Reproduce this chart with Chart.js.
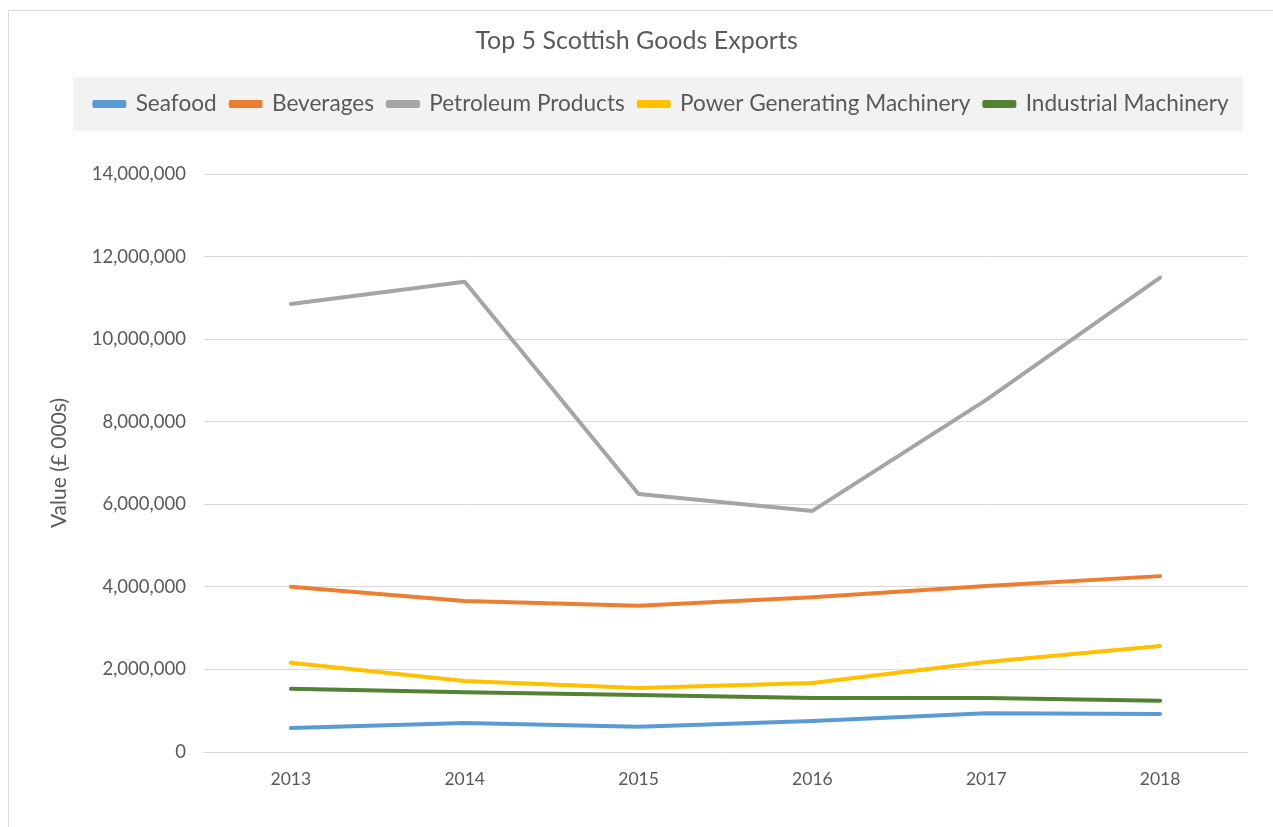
<!DOCTYPE html>
<html>
<head>
<meta charset="utf-8">
<title>Top 5 Scottish Goods Exports</title>
<script src="https://cdn.jsdelivr.net/npm/chart.js@4"></script>
<style>
  html, body { margin: 0; padding: 0; background: #fff; overflow: hidden; }
  #wrap { width: 1273px; height: 827px; }
</style>
</head>
<body>
<div id="wrap"><canvas id="chart" width="1273" height="827"></canvas></div>

<script>
  // export values, £ 000s
  var years = ["2013", "2014", "2015", "2016", "2017", "2018"];
  var seafood = [580000, 700000, 610000, 750000, 940000, 920000];
  var beverages = [4000000, 3660000, 3540000, 3750000, 4020000, 4260000];
  var petroleum = [10850000, 11390000, 6250000, 5840000, 8530000, 11490000];
  var powerMachinery = [2160000, 1720000, 1550000, 1670000, 2180000, 2570000];
  var industrialMachinery = [1530000, 1450000, 1380000, 1310000, 1310000, 1240000];
  var yTicks = [0, 2000000, 4000000, 6000000, 8000000, 10000000, 12000000, 14000000];

  var font = "Lato";
  var textColor = "#595959";

  function series(label, data, color) {
    return {
      label: label,
      data: data,
      borderColor: color,
      backgroundColor: color,
      borderWidth: 4,
      pointRadius: 0,
      pointHoverRadius: 0,
      tension: 0,
      borderCapStyle: "round",
      borderJoinStyle: "round"
    };
  }

  // frame around the chart and grey band behind the legend
  var legendShift = 25;
  var frame = {
    id: "frame",
    beforeDraw: function (chart) {
      var c = chart.ctx;
      var lg = chart.legend;
      lg.left += legendShift;
      lg.right += legendShift;
      c.save();
      c.strokeStyle = "#d9d9d9";
      c.lineWidth = 1;
      c.strokeRect(8.5, 10.5, 1400, 1000);
      c.fillStyle = "#f2f2f2";
      c.fillRect(73, 77, 1170, 54);
      c.restore();
    },
    afterDraw: function (chart) {
      chart.legend.left -= legendShift;
      chart.legend.right -= legendShift;
    }
  };

  var ctx = document.getElementById("chart").getContext("2d");
  new Chart(ctx, {
    type: "line",
    data: {
      labels: years,
      datasets: [
        series("Seafood", seafood, "#5b9bd5"),
        series("Beverages", beverages, "#ed7d31"),
        series("Petroleum Products", petroleum, "#a5a5a5"),
        series("Power Generating Machinery", powerMachinery, "#ffc000"),
        series("Industrial Machinery", industrialMachinery, "#548235")
      ]
    },
    options: {
      responsive: false,
      animation: false,
      layout: { padding: { left: 26, right: 26, top: 0, bottom: 21 } },
      plugins: {
        title: {
          display: true,
          text: "Top 5 Scottish Goods Exports",
          color: textColor,
          font: { family: font, size: 25, weight: "normal" },
          padding: { top: 26, bottom: 22.7 }
        },
        // blank spacer between the legend and the plot
        subtitle: {
          display: true,
          text: " ",
          weight: 500,
          font: { size: 1 },
          padding: { top: 0, bottom: 47.5 }
        },
        legend: {
          position: "top",
          labels: {
            color: textColor,
            font: { family: font, size: 22.6 },
            boxWidth: 30,
            boxHeight: 4,
            padding: 14
          }
        },
        tooltip: { enabled: false }
      },
      scales: {
        x: {
          offset: true,
          grid: { display: false, drawTicks: false },
          border: { display: true, color: "#d9d9d9", width: 1 },
          ticks: {
            color: textColor,
            font: { family: font, size: 17.5 },
            padding: 16.5
          }
        },
        y: {
          min: 0,
          max: 14000000,
          afterBuildTicks: function (axis) {
            axis.ticks = yTicks.map(function (v) { return { value: v }; });
          },
          grid: { color: "#d9d9d9", drawTicks: false },
          border: { display: false },
          title: {
            display: true,
            text: "Value (£ 000s)",
            color: textColor,
            font: { family: font, size: 21 },
            padding: { top: 21, bottom: 1.5 }
          },
          ticks: {
            color: textColor,
            font: { family: font, size: 18.5 },
            padding: 18,
            callback: function (v) { return Number(v).toLocaleString("en-GB"); }
          }
        }
      }
    },
    plugins: [frame]
  });
</script>
</body>
</html>
